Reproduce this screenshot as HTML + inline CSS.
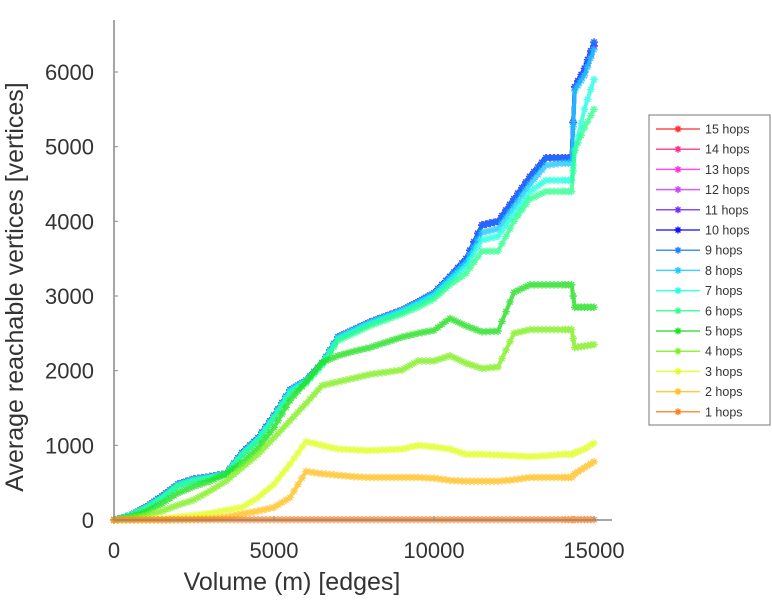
<!DOCTYPE html>
<html><head><meta charset="utf-8"><style>
body{margin:0;background:#fff;}
svg text{font-family:"Liberation Sans",sans-serif;fill:#333;}
</style></head><body>
<svg id="chart" width="772" height="600" xmlns="http://www.w3.org/2000/svg">
<g id="plot"></g>
<g id="axes"></g>
<g id="legend"></g>
</svg>
<script>
const xValues=[0,500,1000,1500,2000,2500,3000,3500,4000,4500,5000,5500,6000,6500,7000,7500,8000,8500,9000,9500,10000,10500,11000,11500,12000,12500,13000,13500,14000,14300,14400,14700,15000];
const hop1=[5,5,5,5,5,5,5,5,5,5,5,5,5,5,5,5,5,5,5,5,5,5,5,5,5,5,5,5,5,5,5,5,5];
const hop2=[0,0,0,0,5,10,20,40,80,120,170,300,650,620,600,580,570,570,570,570,560,530,520,520,520,540,570,570,570,570,620,700,780];
const hop3=[0,0,10,20,40,60,90,130,170,300,480,750,1050,1000,950,940,930,940,950,1000,980,950,880,880,870,860,850,860,880,880,900,950,1030];
const hop4=[0,20,60,120,200,270,390,520,700,880,1100,1330,1560,1800,1850,1900,1950,1980,2010,2130,2130,2200,2100,2030,2050,2500,2550,2550,2550,2550,2310,2330,2350];
const hop5=[0,40,110,220,360,450,520,620,760,960,1240,1600,1850,2110,2200,2260,2310,2380,2450,2500,2540,2700,2600,2520,2530,3050,3150,3150,3150,3150,2850,2850,2850];
const hop6=[0,55,160,290,450,520,560,610,860,1060,1360,1690,1830,2070,2400,2500,2600,2680,2760,2850,2960,3150,3300,3600,3600,4000,4300,4400,4400,4400,4950,5250,5500];
const hop7=[0,58,165,300,465,535,570,615,880,1080,1380,1720,1860,2090,2430,2530,2630,2710,2790,2890,3000,3200,3400,3750,3800,4100,4400,4550,4550,4550,4950,5500,5900];
const hop8=[0,60,170,310,475,545,575,620,890,1090,1390,1735,1870,2100,2445,2545,2645,2725,2805,2910,3030,3240,3450,3850,3900,4200,4500,4750,4780,4780,5750,5950,6300];
const hop9=[0,60,175,320,480,550,580,620,900,1100,1400,1740,1870,2100,2450,2550,2650,2730,2810,2920,3040,3260,3500,3950,4000,4300,4600,4850,4850,4850,5800,6000,6400];
const hop10=[0,60,175,320,480,550,580,620,900,1100,1400,1740,1870,2100,2450,2550,2650,2730,2810,2920,3040,3260,3500,3950,4000,4300,4600,4850,4850,4850,5800,6050,6400];
const hop11=[0,60,175,320,480,550,580,620,900,1100,1400,1740,1870,2100,2450,2550,2650,2730,2810,2920,3040,3260,3500,3950,4000,4300,4600,4850,4850,4850,5800,6000,6350];
const hop12=hop11, hop13=hop11, hop14=hop11, hop15=hop11;
const seriesNames=["15 hops","14 hops","13 hops","12 hops","11 hops","10 hops","9 hops","8 hops","7 hops","6 hops","5 hops","4 hops","3 hops","2 hops","1 hops"];
const seriesValues=[hop15,hop14,hop13,hop12,hop11,hop10,hop9,hop8,hop7,hop6,hop5,hop4,hop3,hop2,hop1];
const seriesColors=["#ff3030","#ff3088","#ff30e0","#d040ff","#7030ff","#1010ff","#2080ff","#20c8ff","#20ffe0","#30ff90","#20e020","#80f020","#e0ff20","#ffc020","#ff8020"];
const xTicks=[0,5000,10000,15000];
const yTicks=[0,1000,2000,3000,4000,5000,6000];
const NS="http://www.w3.org/2000/svg";
const X0=114,X1=594,Y0=520,Y1=72;
function sx(v){return X0+(v/15000)*(X1-X0);}
function sy(v){return Y0-(v/6000)*(Y0-Y1);}
function mk(tag,attrs,parent){const e=document.createElementNS(NS,tag);for(const k in attrs)e.setAttribute(k,attrs[k]);parent.appendChild(e);return e;}
const plot=document.getElementById('plot'),axes=document.getElementById('axes'),legend=document.getElementById('legend');
function star(g,x,y,c,r,w){
  mk('path',{d:`M${x-r},${y}H${x+r}M${x},${y-r}V${y+r}M${x-r*0.7},${y-r*0.7}L${x+r*0.7},${y+r*0.7}M${x-r*0.7},${y+r*0.7}L${x+r*0.7},${y-r*0.7}`,stroke:c,'stroke-width':w||1.4,fill:'none'},g);
}
seriesValues.forEach((vals,i)=>{
  const g=mk('g',{opacity:0.8},plot);
  
  
  const d=vals.map((v,j)=>(j?'L':'M')+sx(xValues[j]).toFixed(1)+','+sy(v).toFixed(1)).join('');
  const p=mk('path',{d:d,stroke:seriesColors[i],'stroke-width':4,fill:'none','stroke-linejoin':'round'},g);
  
  
  for(let j=0;j<vals.length-1;j++){
    const n=Math.max(2,Math.round((xValues[j+1]-xValues[j])/120));
    for(let t=0;t<n;t++){
      const f=t/n;
      const xv=xValues[j]+(xValues[j+1]-xValues[j])*f, yv=vals[j]+(vals[j+1]-vals[j])*f;
      star(g,sx(xv),sy(yv),seriesColors[i],3.8);
    }
  }
  star(g,sx(xValues[vals.length-1]),sy(vals[vals.length-1]),seriesColors[i],3.8);
});
const ya=mk('line',{x1:X0,y1:20,x2:X0,y2:Y0,stroke:'#888','stroke-width':1.5},axes);

const xa=mk('line',{x1:X0,y1:Y0,x2:612,y2:Y0,stroke:'#888','stroke-width':1.5},axes);

yTicks.forEach(v=>{
  mk('line',{x1:X0,y1:sy(v),x2:X0+4,y2:sy(v),stroke:'#888','stroke-width':1},axes);
  const t=mk('text',{x:94,y:sy(v)+8,'text-anchor':'end','font-size':22},axes);
  t.textContent=v;
  
  
});
xTicks.forEach(v=>{
  mk('line',{x1:sx(v),y1:Y0,x2:sx(v),y2:Y0-4,stroke:'#888','stroke-width':1},axes);
  const t=mk('text',{x:sx(v),y:558,'text-anchor':'middle','font-size':22},axes);
  t.textContent=v;
  
  
});
const xt=mk('text',{x:292,y:590,'text-anchor':'middle','font-size':25},axes);
xt.textContent='Volume (m) [edges]';

const yt=mk('text',{x:0,y:0,'text-anchor':'middle','font-size':25,transform:'translate(23,287) rotate(-90)'},axes);
yt.textContent='Average reachable vertices [vertices]';

const lb=mk('rect',{x:649,y:115,width:121,height:310,fill:'#fff',stroke:'#777','stroke-width':1},legend);

seriesNames.forEach((n,i)=>{
  const y=129+i*20.2;
  const g=mk('g',{},legend);
  
  
  mk('line',{x1:656,y1:y,x2:700,y2:y,stroke:seriesColors[i],'stroke-width':1.5,opacity:0.85},g);
  star(g,678,y,seriesColors[i],3.5);
  const t=mk('text',{x:705,y:y+4.5,'font-size':12.5},g);
  t.textContent=n;
});
</script>
</body></html>
